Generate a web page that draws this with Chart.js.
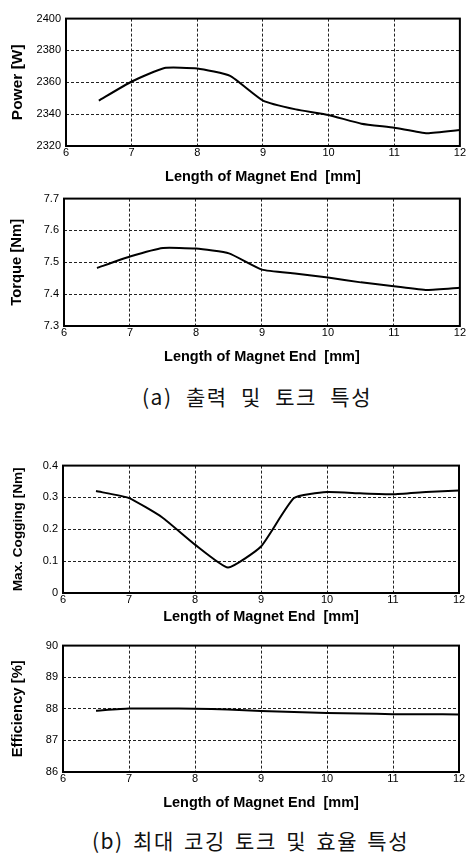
<!DOCTYPE html>
<html>
<head>
<meta charset="utf-8">
<script src="https://cdn.jsdelivr.net/npm/chart.js@4/dist/chart.umd.min.js"></script>
<style>
  html, body { margin: 0; padding: 0; background: #fff; }
  body { width: 466px; height: 861px; position: relative; overflow: hidden; }
  .box { position: absolute; left: 0; width: 466px; }
  .cap { position: absolute; font-family: "Noto Sans CJK KR", sans-serif; font-weight: 400;
         font-size: 21px; color: #111; white-space: pre; line-height: 1; letter-spacing: 1.5px; }
</style>
</head>
<body>
<div class="box" id="b1"><canvas id="c1"></canvas></div>
<div class="box" id="b2"><canvas id="c2"></canvas></div>
<div class="box" id="b3"><canvas id="c3"></canvas></div>
<div class="box" id="b4"><canvas id="c4"></canvas></div>
<div class="cap" id="capA">(a) 출력 및 토크 특성</div>
<div class="cap" id="capB">(b) 최대 코깅 토크 및 효율 특성</div>
<script>
// ---- data ----
const magnetEnd = [6.5, 7, 7.5, 8, 8.5, 9, 9.5, 10, 10.5, 11, 11.5, 12];
const powerW    = [2348.5, 2360.5, 2369, 2368.7, 2364, 2348.5, 2343, 2339.5, 2334, 2331.5, 2328, 2330];
const torqueNm  = [7.482, 7.518, 7.545, 7.543, 7.528, 7.477, 7.465, 7.452, 7.437, 7.425, 7.413, 7.420];
const coggingNm = [0.320, 0.298, 0.238, 0.152, 0.080, 0.146, 0.298, 0.317, 0.313, 0.310, 0.317, 0.322];
const efficiencyPct = [87.94, 88.01, 88.01, 88.00, 87.98, 87.93, 87.90, 87.87, 87.85, 87.83, 87.83, 87.82];
const xTitle = "Length of Magnet End  [mm]";

const frame = {
  id: 'frame',
  afterDatasetsDraw(chart) {
    const a = chart.chartArea, ctx = chart.ctx;
    ctx.save();
    ctx.strokeStyle = '#000';
    ctx.lineWidth = 2;
    ctx.strokeRect(a.left, a.top, a.right - a.left, a.bottom - a.top);
    ctx.restore();
  }
};

const FAM = 'Liberation Sans, Arial, sans-serif';

function make(id, boxId, cfg) {
  const padTop = 8;
  const box = document.getElementById(boxId);
  const H = padTop + (cfg.bottom - cfg.top) + cfg.xh;
  box.style.top = (cfg.top - padTop) + 'px';
  box.style.height = H + 'px';
  new Chart(document.getElementById(id), {
    type: 'line',
    data: {
      datasets: [{
        data: magnetEnd.map((x, i) => ({ x: x, y: cfg.values[i] })),
        borderColor: '#000', borderWidth: 2, pointRadius: 0, tension: 0.15, fill: false
      }]
    },
    plugins: [frame],
    options: {
      responsive: true, maintainAspectRatio: false, animation: false,
      events: [],
      layout: { padding: { top: padTop, right: 466 - cfg.right, bottom: 0, left: 0 } },
      plugins: { legend: { display: false }, tooltip: { enabled: false } },
      scales: {
        x: {
          type: 'linear', min: 6, max: 12,
          ticks: { stepSize: 1, color: '#000', padding: 0, maxRotation: 0,
                   font: { family: FAM, size: 11 } },
          grid: { color: '#222', lineWidth: 1, drawTicks: false },
          border: { display: false, dash: [3, 2] },
          title: { display: true, text: xTitle, color: '#000', padding: { top: 0, bottom: 0 },
                   font: { family: FAM, size: 14.5, weight: 'bold' } },
          afterFit(s) { s.height = cfg.xh; }
        },
        y: {
          min: cfg.min, max: cfg.max,
          ticks: { stepSize: cfg.step, color: '#000', padding: 5,
                   font: { family: FAM, size: 11 },
                   callback: cfg.fmt },
          grid: { color: '#222', lineWidth: 1, drawTicks: false },
          border: { display: false, dash: [3, 2] },
          title: { display: true, text: cfg.ytitle, color: '#000', padding: { top: cfg.ypad, bottom: 0 },
                   font: { family: FAM, size: cfg.ysize, weight: 'bold' } },
          afterFit(s) { s.width = cfg.left; }
        }
      }
    }
  });
}

make('c1', 'b1', { top: 15, bottom: 146, left: 66, right: 461, xh: 40, ysize: 15.5, ypad: 8,
  values: powerW, min: 2320, max: 2400, step: 20, ytitle: 'Power [W]', fmt: v => String(v) });
make('c2', 'b2', { top: 195, bottom: 326, left: 64, right: 461, xh: 40, ysize: 14.8, ypad: 8,
  values: torqueNm, min: 7.3, max: 7.7, step: 0.1, ytitle: 'Torque [Nm]', fmt: v => v.toFixed(1) });
make('c3', 'b3', { top: 462, bottom: 593, left: 63, right: 459, xh: 33, ysize: 13.6, ypad: 10,
  values: coggingNm, min: 0, max: 0.4, step: 0.1, ytitle: 'Max. Cogging [Nm]', fmt: v => (v === 0 ? '0' : v.toFixed(1)) });
make('c4', 'b4', { top: 642, bottom: 772, left: 63, right: 459, xh: 40, ysize: 14.8, ypad: 9,
  values: efficiencyPct, min: 86, max: 90, step: 1, ytitle: 'Efficiency [%]', fmt: v => String(v) });

function fitCaption(el, left, top, targetW) {
  el.style.left = left + 'px';
  el.style.top = top + 'px';
  const spaces = (el.textContent.match(/ /g) || []).length;
  const w = el.getBoundingClientRect().width;
  el.style.wordSpacing = Math.max(0, (targetW - w) / spaces) + 'px';
}
fitCaption(document.getElementById('capA'), 142, 386, 230);
fitCaption(document.getElementById('capB'), 92, 830, 317);
</script>
</body>
</html>
